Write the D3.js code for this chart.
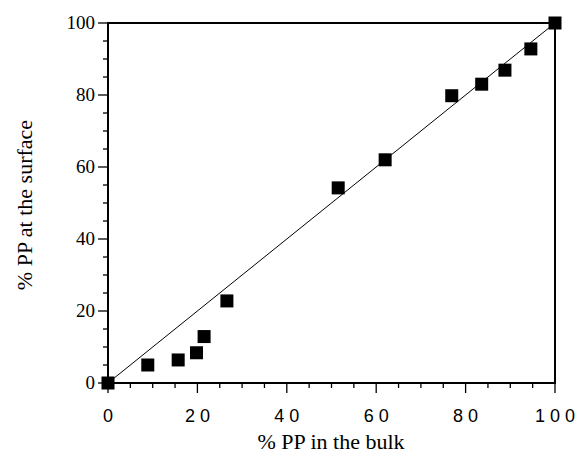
<!DOCTYPE html>
<meta charset="utf-8">
<style>
body { margin: 0; background: #fff; }
</style>
<body>
<script src="https://d3js.org/d3.v7.min.js"></script>
<script>
// % PP in the bulk vs % PP at the surface
var bulk    = [0, 8.9, 15.7, 19.8, 21.5, 26.6, 51.5, 62, 76.9, 83.6, 88.8, 94.6, 100];
var surface = [0, 5.0, 6.4, 8.4, 12.9, 22.8, 54.2, 62, 79.8, 83.0, 86.9, 92.8, 100];
var xTicks = [0, 20, 40, 60, 80, 100];
var yTicks = [0, 20, 40, 60, 80, 100];

var serif = "'Liberation Serif', 'Times New Roman', Times, serif";
var sans = "'Liberation Sans', Arial, Helvetica, sans-serif";

var width = 585, height = 459;
var x = d3.scaleLinear().domain([0, 100]).range([108, 555]);
var y = d3.scaleLinear().domain([0, 100]).range([383, 23]);

var svg = d3.select("body").append("svg")
    .attr("width", width)
    .attr("height", height);

// frame
svg.append("rect")
    .attr("x", x(0)).attr("y", y(100))
    .attr("width", x(100) - x(0)).attr("height", y(0) - y(100))
    .attr("fill", "none").attr("stroke", "#000").attr("stroke-width", 2);

// minor ticks every 5, long ones every 20
var minor = d3.range(0, 101, 5);

var xg = svg.append("g");
xg.selectAll("line").data(minor).enter().append("line")
    .attr("x1", function(d) { return x(d); })
    .attr("x2", function(d) { return x(d); })
    .attr("y1", y(0))
    .attr("y2", function(d) { return y(0) + (d % 20 == 0 ? 10 : 5); })
    .attr("stroke", "#000").attr("stroke-width", 1.3);
xg.selectAll("text").data(xTicks).enter().append("text")
    .attr("x", function(d) { return x(d) + 2.5; })
    .attr("y", 422)
    .attr("text-anchor", "middle")
    .style("font-family", sans)
    .style("font-size", "18px")
    .style("letter-spacing", "5px")
    .text(function(d) { return d; });

var yg = svg.append("g");
yg.selectAll("line").data(minor).enter().append("line")
    .attr("y1", function(d) { return y(d); })
    .attr("y2", function(d) { return y(d); })
    .attr("x1", x(0))
    .attr("x2", function(d) { return x(0) - (d % 20 == 0 ? 10 : 5); })
    .attr("stroke", "#000").attr("stroke-width", 1.3);
yg.selectAll("text").data(yTicks).enter().append("text")
    .attr("x", 95)
    .attr("y", function(d) { return y(d) + 6; })
    .attr("text-anchor", "end")
    .style("font-family", serif)
    .style("font-size", "19px")
    .text(function(d) { return d; });

// y = x reference line
svg.append("line")
    .attr("x1", x(0)).attr("y1", y(0))
    .attr("x2", x(100)).attr("y2", y(100))
    .attr("stroke", "#000").attr("stroke-width", 1);

// points
var s = 13;
svg.selectAll(".pt").data(bulk).enter().append("rect")
    .attr("class", "pt")
    .attr("x", function(d) { return x(d) - s / 2; })
    .attr("y", function(d, i) { return y(surface[i]) - s / 2; })
    .attr("width", s).attr("height", s)
    .attr("fill", "#000");

// axis titles
svg.append("text")
    .attr("x", 331).attr("y", 449)
    .attr("text-anchor", "middle")
    .style("font-family", serif)
    .style("font-size", "22px")
    .text("% PP in the bulk");
svg.append("text")
    .attr("transform", "translate(32,205) rotate(-90)")
    .attr("text-anchor", "middle")
    .style("font-family", serif)
    .style("font-size", "22px")
    .text("% PP at the surface");
</script>
</body>
